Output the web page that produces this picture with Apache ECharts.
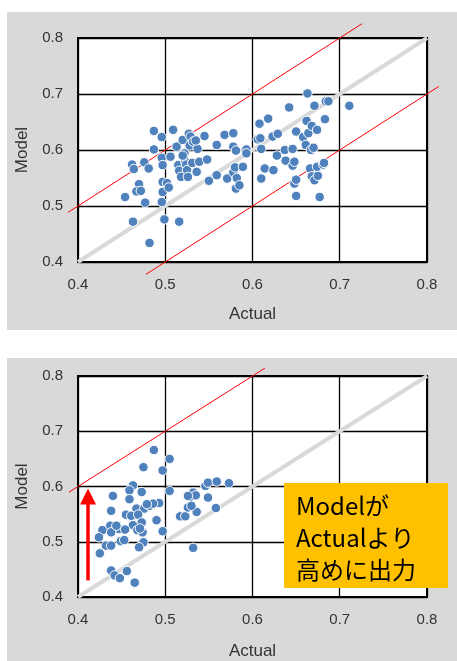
<!DOCTYPE html>
<html>
<head>
<meta charset="utf-8">
<script src="https://cdn.jsdelivr.net/npm/echarts@6/dist/echarts.min.js"></script>
<style>
  html, body { margin: 0; padding: 0; background: #fff; }
  #chart { width: 457px; height: 661px; }
</style>
</head>
<body>
<div id="chart"></div>
<script>
// Axis ticks shared by both panels
const tickValues = [0.4, 0.5, 0.6, 0.7, 0.8];
const tickLabels = ['0.4', '0.5', '0.6', '0.7', '0.8'];

// Panel 1: all samples, [Actual, Model]
const samplesAll = [
  [0.454,0.516],[0.462,0.574],[0.464,0.566],[0.463,0.472],[0.470,0.539],[0.467,0.526],
  [0.472,0.527],[0.477,0.506],[0.476,0.578],[0.481,0.567],[0.482,0.434],[0.487,0.634],
  [0.487,0.601],[0.496,0.623],[0.496,0.586],[0.497,0.573],[0.497,0.543],[0.497,0.525],
  [0.496,0.507],[0.499,0.476],[0.502,0.541],[0.504,0.533],[0.506,0.588],[0.509,0.636],
  [0.513,0.606],[0.515,0.573],[0.516,0.563],[0.516,0.472],[0.518,0.552],[0.520,0.618],
  [0.522,0.594],[0.523,0.579],[0.524,0.574],[0.525,0.564],[0.526,0.552],[0.527,0.629],
  [0.528,0.608],[0.529,0.624],[0.532,0.615],[0.531,0.577],[0.536,0.561],[0.537,0.602],
  [0.539,0.579],[0.545,0.625],[0.548,0.583],[0.550,0.545],[0.559,0.609],[0.559,0.555],
  [0.568,0.627],[0.571,0.549],[0.578,0.630],[0.578,0.606],[0.578,0.560],[0.580,0.569],
  [0.581,0.599],[0.581,0.531],[0.582,0.550],[0.585,0.537],[0.589,0.570],[0.593,0.601],
  [0.593,0.594],[0.606,0.619],[0.608,0.647],[0.609,0.621],[0.610,0.602],[0.610,0.549],
  [0.614,0.567],[0.618,0.656],[0.623,0.624],[0.624,0.564],[0.629,0.629],[0.628,0.590],
  [0.637,0.600],[0.638,0.581],[0.642,0.676],[0.646,0.602],[0.646,0.572],[0.648,0.579],
  [0.648,0.540],[0.650,0.547],[0.650,0.518],[0.650,0.633],[0.658,0.623],[0.661,0.609],
  [0.663,0.701],[0.662,0.652],[0.664,0.630],[0.666,0.567],[0.667,0.600],[0.668,0.643],
  [0.668,0.553],[0.670,0.604],[0.671,0.679],[0.671,0.546],[0.674,0.636],[0.675,0.554],
  [0.674,0.570],[0.677,0.516],[0.681,0.574],[0.683,0.655],[0.684,0.687],[0.687,0.687],
  [0.682,0.577],[0.711,0.679],[0.520,0.590],[0.535,0.617]
];

// Panel 2: low-Actual samples, [Actual, Model]
const samplesLow = [
  [0.487,0.666],[0.505,0.650],[0.475,0.635],[0.497,0.629],[0.463,0.602],[0.473,0.590],
  [0.505,0.592],[0.440,0.583],[0.459,0.593],[0.459,0.577],[0.493,0.570],[0.467,0.560],
  [0.476,0.560],[0.482,0.565],[0.438,0.556],[0.455,0.549],[0.461,0.547],[0.469,0.549],
  [0.490,0.539],[0.473,0.535],[0.463,0.530],[0.437,0.529],[0.447,0.523],[0.454,0.522],
  [0.468,0.521],[0.474,0.517],[0.497,0.519],[0.428,0.521],[0.438,0.517],[0.424,0.508],
  [0.449,0.501],[0.453,0.503],[0.475,0.499],[0.470,0.490],[0.432,0.493],[0.438,0.493],
  [0.425,0.479],[0.438,0.448],[0.442,0.439],[0.448,0.434],[0.456,0.447],[0.465,0.426],
  [0.517,0.546],[0.523,0.546],[0.526,0.562],[0.528,0.581],[0.532,0.589],[0.535,0.584],
  [0.536,0.554],[0.530,0.565],[0.532,0.489],[0.546,0.601],[0.549,0.607],[0.549,0.580],
  [0.558,0.561],[0.559,0.609],[0.573,0.606],[0.526,0.583],[0.486,0.569],[0.471,0.524],
  [0.444,0.529],[0.479,0.568]
];

// Reference segments [x1, y1, x2, y2]: Model = Actual, and offset bands
const identityLine = [[0.4, 0.4, 0.8, 0.8]];
const bandLines1 = [[0.3885, 0.4885, 0.7253, 0.8253], [0.4779, 0.3779, 0.8135, 0.7135]];
const bandLines2 = [[0.3897, 0.5897, 0.6142, 0.8142]];

// Arrow showing the upward bias in panel 2: [x, yStart, yEnd]
const biasArrow = [0.4115, 0.430, 0.582];
const calloutText = 'Modelが\nActualより\n高めに出力';

const labelFont = 'Liberation Sans';
const chart = echarts.init(document.getElementById('chart'), null, { renderer: 'canvas' });

function valueAxis(idx, name, isY, nameGap) {
  return {
    type: 'value', gridIndex: idx, min: 0.4, max: 0.8, interval: 0.1,
    name: name, nameLocation: 'middle', nameGap: nameGap,
    nameRotate: isY ? 90 : 0,
    nameTextStyle: { fontFamily: labelFont, fontSize: 17, color: '#333' },
    axisLine: { show: false },
    axisTick: { show: false },
    axisLabel: {
      fontFamily: labelFont, fontSize: 15, color: '#333', margin: 15,
      formatter: v => tickLabels[tickValues.findIndex(t => Math.abs(t - v) < 1e-9)] ?? ''
    },
    splitLine: { show: true, lineStyle: { color: '#000', width: 1.3 } }
  };
}

function scatter(idx, data) {
  return {
    type: 'scatter', xAxisIndex: idx, yAxisIndex: idx, data: data,
    symbolSize: 9.5, z: 5,
    itemStyle: { color: '#4f81bd', borderColor: '#fff', borderWidth: 1, opacity: 1 }
  };
}

// Straight segments placed through the axes; allowed to run past the plot frame
function segments(idx, data, color, width, z) {
  return {
    type: 'custom', xAxisIndex: idx, yAxisIndex: idx, data: data,
    clip: false, z: z, silent: true,
    encode: { x: [0, 2], y: [1, 3] },
    renderItem: (params, api) => {
      const p1 = api.coord([api.value(0), api.value(1)]);
      const p2 = api.coord([api.value(2), api.value(3)]);
      return {
        type: 'line',
        shape: { x1: p1[0], y1: p1[1], x2: p2[0], y2: p2[1] },
        style: { stroke: color, lineWidth: width, lineCap: 'butt' }
      };
    }
  };
}

chart.setOption({
  animation: false,
  backgroundColor: '#fff',
  graphic: [
    { type: 'rect', z: -10, shape: { x: 7, y: 12, width: 450, height: 318 }, style: { fill: '#d9d9d9' } },
    { type: 'rect', z: -10, shape: { x: 7, y: 358, width: 450, height: 303 }, style: { fill: '#d9d9d9' } },
    { type: 'rect', z: 100, shape: { x: 284, y: 483, width: 164, height: 105 }, style: { fill: '#ffc000' } },
    { type: 'text', z: 101, x: 296, y: 490,
      style: { text: calloutText, fill: '#000', font: '24px "Noto Sans CJK JP"', lineHeight: 32, verticalAlign: 'top' } }
  ],
  grid: [
    { left: 78, top: 38, width: 349, height: 224, show: true, backgroundColor: '#fff', borderColor: '#000', borderWidth: 2 },
    { left: 78, top: 376, width: 349, height: 222, show: true, backgroundColor: '#fff', borderColor: '#000', borderWidth: 2 }
  ],
  xAxis: [valueAxis(0, 'Actual', false, 44), valueAxis(1, 'Actual', false, 46)],
  yAxis: [valueAxis(0, 'Model', true, 46), valueAxis(1, 'Model', true, 46)],
  series: [
    segments(0, identityLine, '#d9d9d9', 4, 2),
    segments(0, bandLines1, '#ff0000', 1, 3),
    scatter(0, samplesAll),
    segments(1, identityLine, '#d9d9d9', 4, 2),
    segments(1, bandLines2, '#ff0000', 1, 3),
    scatter(1, samplesLow),
    {
      type: 'line', xAxisIndex: 1, yAxisIndex: 1, data: [], z: 6,
      markLine: {
        silent: true, animation: false,
        symbol: ['none', 'triangle'], symbolSize: [16, 16],
        label: { show: false },
        lineStyle: { color: '#ff0000', width: 3.5, type: 'solid' },
        data: [[{ coord: [biasArrow[0], biasArrow[1]] }, { coord: [biasArrow[0], biasArrow[2]] }]]
      }
    }
  ]
});
</script>
</body>
</html>
